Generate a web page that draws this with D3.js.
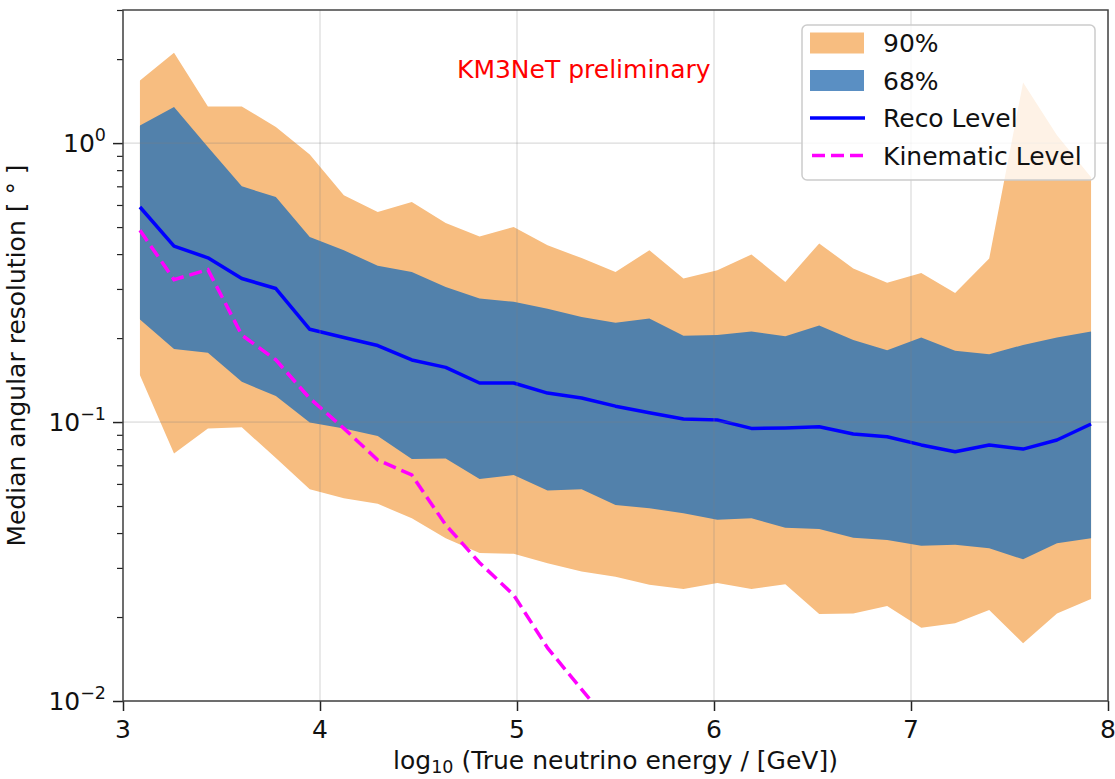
<!DOCTYPE html>
<html>
<head>
<meta charset="utf-8">
<script src="https://cdn.jsdelivr.net/npm/d3@7"></script>
<style>
  html, body { margin: 0; padding: 0; background: #ffffff; }
  svg { display: block; font-family: "DejaVu Sans", sans-serif; }
</style>
</head>
<body>
<svg id="chart" width="1115" height="779"></svg>
<script>
// Bin centres in log10(E / GeV)
const logEnergy = [3.086, 3.259, 3.431, 3.603, 3.776, 3.948, 4.121, 4.293, 4.466, 4.638,
                   4.810, 4.983, 5.155, 5.328, 5.500, 5.672, 5.845, 6.017, 6.190, 6.362,
                   6.534, 6.707, 6.879, 7.052, 7.224, 7.397, 7.569, 7.741, 7.914];

// Median angular resolution (degrees), reconstruction level
const recoMedian = [0.590, 0.427, 0.388, 0.327, 0.301, 0.215, 0.201, 0.188, 0.167, 0.157,
                    0.138, 0.138, 0.127, 0.122, 0.114, 0.108, 0.1025, 0.1017, 0.0949, 0.0953,
                    0.0962, 0.0906, 0.0886, 0.0828, 0.0783, 0.0828, 0.0800, 0.0862, 0.0984];

// 68% band
const band68Low  = [0.233, 0.1826, 0.177, 0.1394, 0.124, 0.0997, 0.0949, 0.0891, 0.0737, 0.0740,
                    0.0625, 0.0646, 0.0568, 0.0574, 0.0504, 0.0491, 0.0471, 0.0446, 0.0452, 0.0418,
                    0.0414, 0.0385, 0.0378, 0.0360, 0.0363, 0.0353, 0.0322, 0.0368, 0.0383];
const band68High = [1.157, 1.346, 0.968, 0.700, 0.641, 0.461, 0.413, 0.363, 0.345, 0.305,
                    0.277, 0.270, 0.255, 0.238, 0.227, 0.235, 0.204, 0.205, 0.211, 0.203,
                    0.222, 0.197, 0.181, 0.201, 0.180, 0.175, 0.189, 0.201, 0.211];

// 90% band
const band90Low  = [0.1473, 0.0772, 0.0949, 0.0957, 0.0743, 0.0574, 0.0533, 0.0509, 0.0452, 0.0383,
                    0.0339, 0.0337, 0.0312, 0.0291, 0.0279, 0.0261, 0.0252, 0.0265, 0.0252, 0.0262,
                    0.0205, 0.0206, 0.0219, 0.0183, 0.0190, 0.0212, 0.0161, 0.0206, 0.0232];
const band90High = [1.677, 2.107, 1.353, 1.353, 1.141, 0.911, 0.650, 0.566, 0.615, 0.517,
                    0.463, 0.500, 0.430, 0.387, 0.345, 0.413, 0.327, 0.350, 0.399, 0.318,
                    0.437, 0.355, 0.316, 0.342, 0.290, 0.386, 1.649, 1.066, 0.754];

// Kinematic angle (neutrino vs. muon), first bins only
const kinematic = [0.487, 0.324, 0.352, 0.205, 0.167, 0.1216, 0.0949, 0.0731, 0.0646, 0.0428,
                   0.0313, 0.0240, 0.0155, 0.0110, 0.0079];

const xTickValues = [3, 4, 5, 6, 7, 8];
const yTickExponents = [0, -1, -2];
const legendLabels = ["90%", "68%", "Reco Level", "Kinematic Level"];

// ---- layout ----
const plotL = 123, plotR = 1108, plotT = 10, plotB = 701;
const FS = 25;

const svg = d3.select("#chart");

const x = d3.scaleLinear().domain([3, 8]).range([plotL, plotR]);
const y = d3.scaleLog().domain([0.01, 3]).range([plotB, plotT]);

const colOrange = "#f7bd80";
const colBlue = "#5281ab";

svg.append("defs").append("clipPath").attr("id", "plotclip")
  .append("rect").attr("x", plotL).attr("y", plotT)
  .attr("width", plotR - plotL).attr("height", plotB - plotT);

const plot = svg.append("g").attr("clip-path", "url(#plotclip)");

const rows = logEnergy.map((e, i) => ({
  e, med: recoMedian[i],
  lo68: band68Low[i], hi68: band68High[i],
  lo90: band90Low[i], hi90: band90High[i]
}));

const area = (lo, hi) => d3.area()
  .x(d => x(d.e)).y0(d => y(d[lo])).y1(d => y(d[hi]));

plot.append("path").attr("d", area("lo90", "hi90")(rows)).attr("fill", colOrange);
plot.append("path").attr("d", area("lo68", "hi68")(rows)).attr("fill", colBlue);

plot.append("path")
  .attr("d", d3.line().x(d => x(d.e)).y(d => y(d.med))(rows))
  .attr("fill", "none").attr("stroke", "#0000ff").attr("stroke-width", 3.5)
  .attr("stroke-linejoin", "round");

const kin = kinematic.map((v, i) => ({ e: logEnergy[i], v }));
plot.append("path")
  .attr("d", d3.line().x(d => x(d.e)).y(d => y(d.v))(kin))
  .attr("fill", "none").attr("stroke", "#ff00ff").attr("stroke-width", 3.5)
  .attr("stroke-dasharray", "13,6");

// grid (drawn above the bands)
const grid = svg.append("g").attr("stroke", "#808080").attr("stroke-opacity", 0.35)
  .attr("stroke-width", 1);
xTickValues.forEach(t => {
  grid.append("line").attr("x1", x(t)).attr("x2", x(t)).attr("y1", plotT).attr("y2", plotB);
});
yTickExponents.forEach(p => {
  const v = Math.pow(10, p);
  grid.append("line").attr("x1", plotL).attr("x2", plotR).attr("y1", y(v)).attr("y2", y(v));
});

// axes
const xAxis = d3.axisBottom(x).tickValues(xTickValues).tickSize(10).tickFormat("");
const gx = svg.append("g").attr("transform", `translate(0,${plotB})`).call(xAxis);
gx.select(".domain").remove();
gx.selectAll(".tick line").attr("stroke", "#222").attr("stroke-width", 1.5);
xTickValues.forEach(t => {
  svg.append("text").attr("x", x(t)).attr("y", 738).attr("text-anchor", "middle")
    .attr("font-size", FS).attr("fill", "#111").text(t);
});

const minorVals = [];
[-2, -1, 0].forEach(p => {
  for (let m = 2; m <= 9; m++) {
    const v = m * Math.pow(10, p);
    if (v <= 3) minorVals.push(v);
  }
});
const yMinor = d3.axisLeft(y).tickValues(minorVals).tickSize(6).tickFormat("");
const gym = svg.append("g").attr("transform", `translate(${plotL},0)`).call(yMinor);
gym.select(".domain").remove();
gym.selectAll(".tick line").attr("stroke", "#222").attr("stroke-width", 1.2);

const yMajor = d3.axisLeft(y).tickValues(yTickExponents.map(p => Math.pow(10, p)))
  .tickSize(10).tickFormat("");
const gy = svg.append("g").attr("transform", `translate(${plotL},0)`).call(yMajor);
gy.select(".domain").remove();
gy.selectAll(".tick line").attr("stroke", "#222").attr("stroke-width", 1.5);

yTickExponents.forEach(p => {
  const t = svg.append("text").attr("x", 106).attr("y", y(Math.pow(10, p)) + 9)
    .attr("text-anchor", "end").attr("font-size", FS).attr("fill", "#111");
  t.append("tspan").text("10");
  t.append("tspan").attr("font-size", FS * 0.7).attr("dy", -11)
    .text(p === 0 ? "0" : "\u2212" + Math.abs(p));
});

// frame
svg.append("rect").attr("x", plotL).attr("y", plotT)
  .attr("width", plotR - plotL).attr("height", plotB - plotT)
  .attr("fill", "none").attr("stroke", "#444").attr("stroke-width", 1.5);

// axis titles
const xl = svg.append("text").attr("x", (plotL + plotR) / 2).attr("y", 769)
  .attr("text-anchor", "middle").attr("font-size", FS).attr("fill", "#111");
xl.append("tspan").text("log");
xl.append("tspan").attr("font-size", FS * 0.7).attr("dy", 4).text("10");
xl.append("tspan").attr("dy", -4).text(" (True neutrino energy / [GeV])");

svg.append("text")
  .attr("transform", `translate(25,${(plotT + plotB) / 2}) rotate(-90)`)
  .attr("text-anchor", "middle").attr("font-size", FS).attr("fill", "#111")
  .text("Median angular resolution [ \u00b0 ]");

// annotation
svg.append("text").attr("x", 457).attr("y", 78).attr("font-size", FS)
  .attr("fill", "#ff0000").text("KM3NeT preliminary");

// legend
const lg = svg.append("g");
lg.append("rect").attr("x", 802).attr("y", 25).attr("width", 293).attr("height", 155)
  .attr("rx", 5).attr("fill", "#ffffff").attr("fill-opacity", 0.8)
  .attr("stroke", "#cccccc").attr("stroke-width", 1.5);
const rowY = [43, 80.5, 118, 155.5];
lg.append("rect").attr("x", 810).attr("y", rowY[0] - 10.5).attr("width", 54).attr("height", 21)
  .attr("fill", colOrange);
lg.append("rect").attr("x", 810).attr("y", rowY[1] - 10.5).attr("width", 54).attr("height", 21)
  .attr("fill", "#5a8fc3");
lg.append("line").attr("x1", 810).attr("x2", 865).attr("y1", rowY[2]).attr("y2", rowY[2])
  .attr("stroke", "#0000ff").attr("stroke-width", 3.5);
lg.append("line").attr("x1", 812).attr("x2", 865).attr("y1", rowY[3]).attr("y2", rowY[3])
  .attr("stroke", "#ff00ff").attr("stroke-width", 3.5).attr("stroke-dasharray", "13,6");
legendLabels.forEach((s, i) => {
  lg.append("text").attr("x", 883).attr("y", rowY[i] + 9).attr("font-size", FS)
    .attr("fill", "#111").text(s);
});
</script>
</body>
</html>
